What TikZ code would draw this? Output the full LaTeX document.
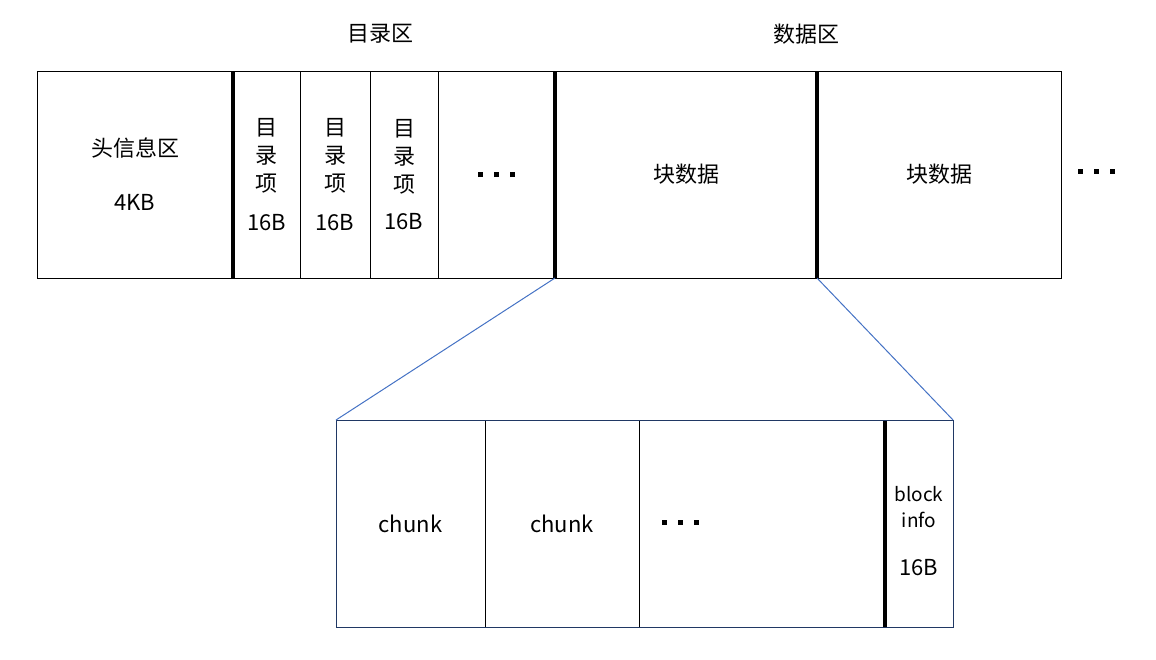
\documentclass[tikz,border=0pt]{standalone}
\usepackage{fontspec}
\setmainfont{Noto Sans CJK SC}
\usepackage{tikz}
\usetikzlibrary{arrows}

\definecolor{navy}{RGB}{32,56,100}
\definecolor{lineblue}{RGB}{68,114,196}
\newcommand{\sqdots}{\rule{5pt}{5pt}\hspace{11pt}\rule{5pt}{5pt}\hspace{11pt}\rule{5pt}{5pt}}

\begin{document}
\begin{tikzpicture}[x=1pt, y=-1pt, line width=1pt,
  cell/.style={draw, minimum height=207pt, inner sep=0pt, outer sep=0pt, anchor=north west, align=center},
  bar/.style={line width=4pt}]
\useasboundingbox (0,0) rectangle (1156,659);
\fontsize{22}{28}\selectfont

% Fila de arriba
\path [every node/.style={cell}]
  node[minimum width=196pt] (hdr) at (37,71) {头信息区\\[26pt]4KB}
  node[minimum width=67pt] (ent1) at (233,71) {目\\录\\项\\[11pt]16B}
  node[minimum width=70pt] (ent2) at (300,71) {目\\录\\项\\[11pt]16B}
  node[minimum width=68pt] (ent3) at (370,71) {目\\录\\项\\[9pt]16B}
  node[minimum width=117pt] (entdots) at (438,71) {\sqdots}
  node[minimum width=262pt] (blk1) at (555,71) {块数据}
  node[minimum width=244pt] (blk2) at (817,71) {块数据};

\path
  node (dirlbl) at (380,34) {目录区}
  node (datalbl) at (806,34) {数据区}
  node (moredots) at (1096,171) {\sqdots};

% Fila de abajo
\path [every node/.style={cell}]
  node[minimum width=149pt] (chunk1) at (336,420) {chunk}
  node[minimum width=154pt] (chunk2) at (485,420) {chunk}
  node[minimum width=246pt] (chunkdots) at (639,420) {}
  node[minimum width=68pt] (binfo) at (885,420) {};

\node (chunkdotslbl) at (680,522) {\sqdots};
\node[align=center, font=\fontsize{19}{26}\selectfont] (binfolbl) at (919,531)
  {block\\info\\[22pt]{\fontsize{22}{26}\selectfont 16B}};

\begin{scope}
	% Separadores gruesos
	\draw[bar] (hdr.north east) -- (hdr.south east);
	\draw[bar] (entdots.north east) -- (entdots.south east);
	\draw[bar] (blk1.north east) -- (blk1.south east);
	\draw[bar] (chunkdots.north east) -- (chunkdots.south east);
	% Marco de abajo
	\draw[navy] (chunk1.north west) rectangle (binfo.south east);
	% Lineas de ampliacion
	\draw[lineblue] (blk1.south west) -- (chunk1.north west);
	\draw[lineblue] (blk2.south west) -- (binfo.north east);
\end{scope}

\end{tikzpicture}
\end{document}
